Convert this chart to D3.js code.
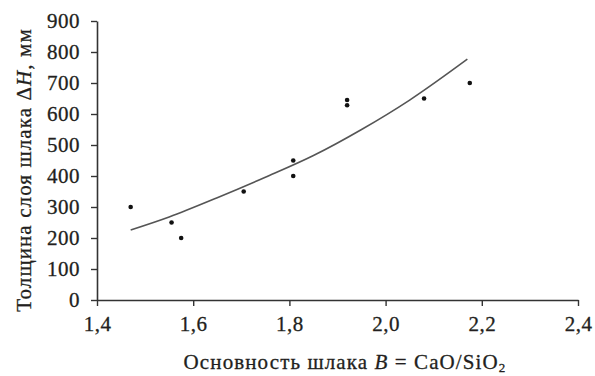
<!DOCTYPE html>
<html>
<head>
<meta charset="utf-8">
<script src="https://cdn.jsdelivr.net/npm/d3@7"></script>
<style>
  html, body { margin: 0; padding: 0; background: #fff; }
  svg { display: block; }
  text { font-family: "Liberation Serif", "DejaVu Serif", serif; fill: #231f20; }
</style>
</head>
<body>
<svg id="chart" width="595" height="376"></svg>
<script>
// Measured slag thickness against basicity
const basicity = [1.47, 1.555, 1.575, 1.705, 1.808, 1.808, 1.92, 1.92, 2.08, 2.175];
const thickness = [300, 250, 200, 350, 450, 400, 645, 628, 650, 700];

// Trend line through the data
const trendB = [1.47, 1.55, 1.65, 1.75, 1.85, 1.95, 2.05, 2.17];
const trendH = [226, 268, 330, 396, 466, 550, 645, 777];

const xTicks = [1.4, 1.6, 1.8, 2.0, 2.2, 2.4];
const yTicks = [0, 100, 200, 300, 400, 500, 600, 700, 800, 900];

const svg = d3.select("#chart");
const ink = "#231f20";

const x = d3.scaleLinear().domain([1.4, 2.4]).range([97, 578]);
const y = d3.scaleLinear().domain([0, 900]).range([300, 21]);

const fmt = d => d.toFixed(1).replace(".", ",");

// X axis
const gx = svg.append("g")
  .attr("transform", `translate(0,${y(0)})`)
  .call(d3.axisBottom(x).tickValues(xTicks).tickFormat(fmt)
        .tickSize(6).tickSizeOuter(0).tickPadding(10));

// Y axis
const gy = svg.append("g")
  .attr("transform", `translate(${x(1.4)},0)`)
  .call(d3.axisLeft(y).tickValues(yTicks).tickFormat(d3.format("d"))
        .tickSize(6).tickSizeOuter(0).tickPadding(11));

[gx, gy].forEach(g => {
  g.select(".domain").attr("stroke", "#333").attr("stroke-width", 1.6);
  g.selectAll(".tick line").attr("stroke", "#333").attr("stroke-width", 1.4);
  g.selectAll(".tick text")
    .attr("fill", ink)
    .attr("stroke", ink)
    .attr("stroke-width", 0.3)
    .style("font-family", "'Liberation Serif', serif")
    .style("font-size", "21px")
    .style("letter-spacing", "0.5px");
});

// Trend curve
const line = d3.line()
  .x((d, i) => x(trendB[i]))
  .y((d, i) => y(trendH[i]))
  .curve(d3.curveMonotoneX);

svg.append("path")
  .datum(trendH)
  .attr("d", line)
  .attr("fill", "none")
  .attr("stroke", "#555")
  .attr("stroke-width", 1.6);

// Data points
svg.append("g")
  .selectAll("circle")
  .data(thickness)
  .join("circle")
  .attr("cx", (d, i) => x(basicity[i]))
  .attr("cy", d => y(d))
  .attr("r", 2.3)
  .attr("fill", "#111");

// X axis title
const xt = svg.append("text")
  .attr("x", 345)
  .attr("y", 369)
  .attr("text-anchor", "middle")
  .attr("stroke", ink)
  .attr("stroke-width", 0.3)
  .style("font-size", "21px")
  .style("letter-spacing", "1.1px");
xt.append("tspan").text("Основность шлака ");
xt.append("tspan").style("font-style", "italic").text("B");
xt.append("tspan").text(" = CaO/SiO");
xt.append("tspan").attr("dy", 3).style("font-size", "13px").text("2");

// Y axis title
const yt = svg.append("text")
  .attr("transform", "translate(31,170) rotate(-90)")
  .attr("text-anchor", "middle")
  .attr("stroke", ink)
  .attr("stroke-width", 0.3)
  .style("font-size", "21px")
  .style("letter-spacing", "1.1px");
yt.append("tspan").text("Толщина слоя шлака Δ");
yt.append("tspan").style("font-style", "italic").text("H");
yt.append("tspan").text(", мм");
</script>
</body>
</html>
